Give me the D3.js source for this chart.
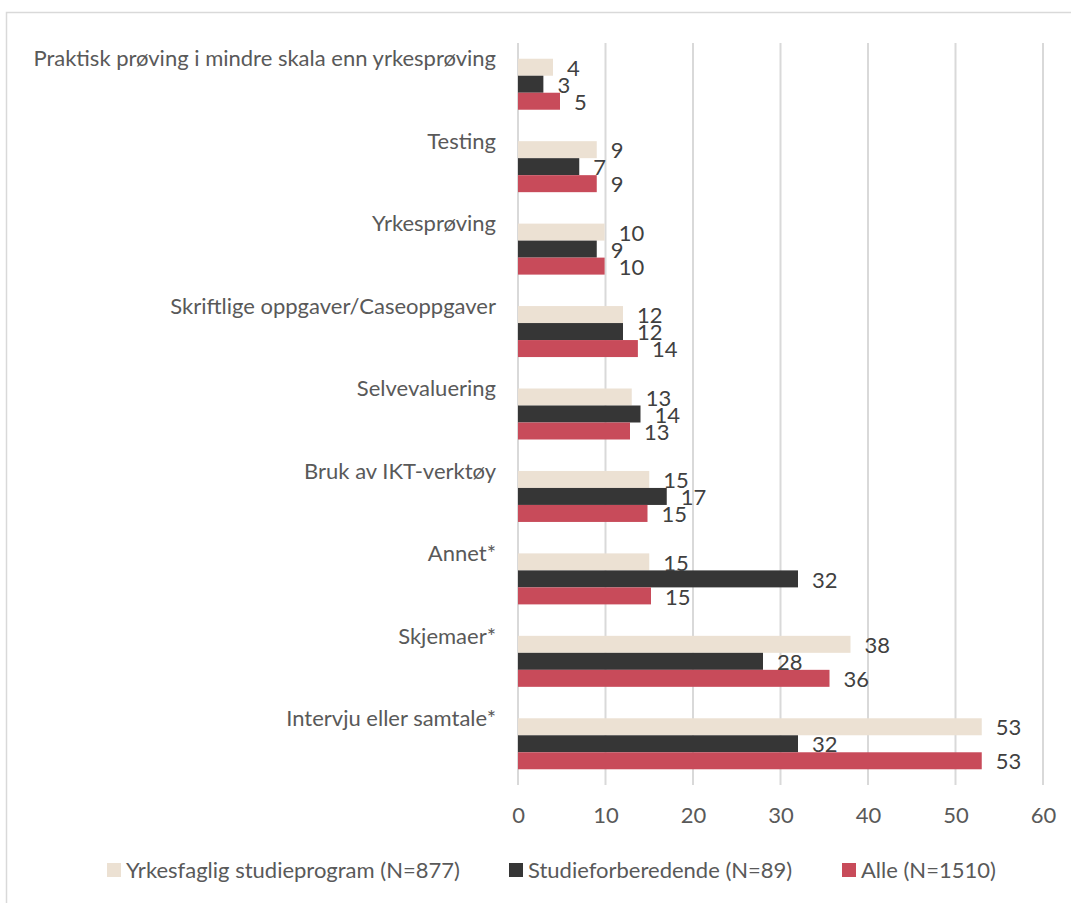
<!DOCTYPE html>
<html>
<head>
<meta charset="utf-8">
<script src="https://cdn.jsdelivr.net/npm/d3@7"></script>
<style>
  body { margin: 0; background: #fff; }
  text { font-family: Lato, "Open Sans", sans-serif; }
</style>
</head>
<body>
<div id="chart"></div>
<script>

// categories, top to bottom
const categories = [
    "Praktisk prøving i mindre skala enn yrkesprøving",
    "Testing",
    "Yrkesprøving",
    "Skriftlige oppgaver/Caseoppgaver",
    "Selvevaluering",
    "Bruk av IKT-verktøy",
    "Annet*",
    "Skjemaer*",
    "Intervju eller samtale*"
];

const seriesNames = ["Yrkesfaglig studieprogram (N=877)", "Studieforberedende (N=89)", "Alle (N=1510)"];

// values (labels are rounded)
const yrkesfaglig = [4.0, 9.0, 9.9, 12.0, 13.0, 15.0, 15.0, 38.0, 53.0];
const studieforb = [2.9, 7.0, 9.0, 12.0, 14.0, 17.0, 32.0, 28.0, 32.0];
const alle = [4.8, 9.0, 9.9, 13.7, 12.8, 14.8, 15.2, 35.6, 53.0];

const xTicks = [0, 10, 20, 30, 40, 50, 60];

const colors = ["#ECE1D3", "#363636", "#C84B5A"];

let data = categories.map((c, i) => ({
    cat: c,
    vals: [yrkesfaglig[i], studieforb[i], alle[i]]
}));

let margin = { top: 43, left: 518, right: 28, bottom: 118 };
let width = 1071, height = 903;
let plotW = 1043 - margin.left;
let plotH = 785 - margin.top;
let fontSize = "22px";

let svg = d3.select("#chart").append("svg")
    .attr("width", width)
    .attr("height", height);

// outer chart border (light grey)
svg.append("path")
    .attr("d", "M6.5," + height + " V12.5 H" + width)
    .attr("fill", "none")
    .attr("stroke", "#D9D9D9")
    .attr("stroke-width", 1.5);

let g = svg.append("g")
    .attr("transform", "translate(" + margin.left + "," + margin.top + ")");

let x = d3.scaleLinear()
    .domain([0, 60])
    .range([0, plotW]);

let y = d3.scaleBand()
    .domain(categories)
    .range([0, plotH]);

let barH = 17;
let groupH = barH * 3;

// gridlines
g.selectAll(".grid")
    .data(xTicks)
    .enter().append("line")
    .attr("class", "grid")
    .attr("x1", d => x(d)).attr("x2", d => x(d))
    .attr("y1", 0).attr("y2", plotH)
    .attr("stroke", "#D9D9D9")
    .attr("stroke-width", 2);

// x axis labels
let xAxis = d3.axisBottom(x).tickValues(xTicks).tickSize(0).tickPadding(22);
let ax = g.append("g")
    .attr("transform", "translate(0," + plotH + ")")
    .call(xAxis);
ax.select(".domain").remove();
ax.selectAll("text")
    .style("font-size", fontSize)
    .attr("fill", "#595959");

// category labels
g.selectAll(".cat")
    .data(data)
    .enter().append("text")
    .attr("class", "cat")
    .attr("x", -22)
    .attr("y", d => y(d.cat) + (y.bandwidth() - groupH) / 2)
    .attr("dy", "0.35em")
    .attr("text-anchor", "end")
    .style("font-size", fontSize)
    .attr("fill", "#595959")
    .text(d => d.cat);

// bars
let groups = g.selectAll(".grp")
    .data(data)
    .enter().append("g")
    .attr("class", "grp")
    .attr("transform", d => "translate(0," + (y(d.cat) + (y.bandwidth() - groupH) / 2) + ")");

groups.selectAll("rect")
    .data(d => d.vals)
    .enter().append("rect")
    .attr("x", 0)
    .attr("y", (d, i) => i * barH)
    .attr("width", d => x(d))
    .attr("height", barH)
    .attr("fill", (d, i) => colors[i]);

groups.selectAll(".lbl")
    .data(d => d.vals)
    .enter().append("text")
    .attr("class", "lbl")
    .attr("x", d => x(d) + 14)
    .attr("y", (d, i) => i * barH + barH / 2 + 1)
    .attr("dy", "0.35em")
    .style("font-size", fontSize)
    .attr("fill", "#404040")
    .text(d => Math.round(d));

// legend
let legendX = [107, 509, 842];
let legend = svg.selectAll(".leg")
    .data(seriesNames)
    .enter().append("g")
    .attr("class", "leg")
    .attr("transform", (d, i) => "translate(" + legendX[i] + ",870)");

legend.append("rect")
    .attr("x", 0).attr("y", -7)
    .attr("width", 14).attr("height", 14)
    .attr("fill", (d, i) => colors[i]);

legend.append("text")
    .attr("x", 19)
    .attr("y", 0)
    .attr("dy", "0.35em")
    .style("font-size", fontSize)
    .attr("fill", "#595959")
    .text(d => d);

</script>
</body>
</html>
